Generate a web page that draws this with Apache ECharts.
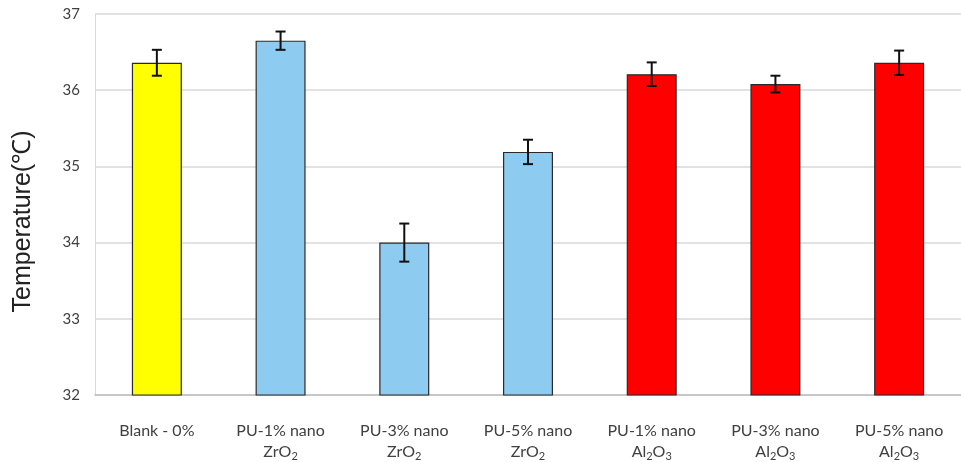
<!DOCTYPE html>
<html><head><meta charset="utf-8">
<script src="https://cdn.jsdelivr.net/npm/echarts@6/dist/echarts.min.js"></script>
<style>html,body{margin:0;padding:0;background:#fff}#c{width:961px;height:462px}</style>
</head><body><div id="c"></div>
<script>
const categories = ['Blank - 0%', 'PU-1% nano\nZrO{s|2}', 'PU-3% nano\nZrO{s|2}', 'PU-5% nano\nZrO{s|2}', 'PU-1% nano\nAl{s|2}O{s|3}', 'PU-3% nano\nAl{s|2}O{s|3}', 'PU-5% nano\nAl{s|2}O{s|3}'];
const values = [36.36, 36.65, 34.00, 35.19, 36.21, 36.08, 36.36];
const errors = [0.17, 0.12, 0.25, 0.16, 0.155, 0.11, 0.16];
const barColors = ['#ffff00', '#8ecbf0', '#8ecbf0', '#8ecbf0', '#ff0000', '#ff0000', '#ff0000'];
const yTicks = [32, 33, 34, 35, 36, 37];

const chart = echarts.init(document.getElementById('c'));
const font = 'Lato, "Open Sans", sans-serif';
chart.setOption({
  animation: false,
  grid: { left: 95, top: 14, width: 878, bottom: 65, containLabel: false },
  xAxis: {
    type: 'category', data: categories,
    axisTick: { show: false },
    axisLine: { lineStyle: { color: '#bfbfbf', width: 1.5 } },
    axisLabel: {
      interval: 0, margin: 25, color: '#404040', fontFamily: font, fontSize: 16, lineHeight: 21,
      rich: { s: { fontSize: 11, verticalAlign: 'bottom', padding: [9, 0, 0, 0], color: '#404040', fontFamily: font } }
    }
  },
  yAxis: {
    type: 'value', min: yTicks[0], max: yTicks[yTicks.length - 1], interval: 1,
    name: 'Temperature(\u2103)', nameLocation: 'middle', nameGap: 59,
    nameTextStyle: { fontFamily: '"Liberation Sans", Arial, sans-serif', fontSize: 25, color: '#222', padding: [0, 34, 0, 0] },
    axisLine: { show: true, lineStyle: { color: '#d9d9d9' } },
    axisTick: { show: false },
    splitLine: { lineStyle: { color: '#d9d9d9', width: 1.5 } },
    axisLabel: { margin: 15, color: '#404040', fontFamily: font, fontSize: 15 }
  },
  series: [
    {
      type: 'bar', barWidth: 50,
      data: values.map((v, i) => ({ value: v, itemStyle: { color: barColors[i] } })),
      itemStyle: { borderColor: '#2a2a2a', borderWidth: 1.2 }
    },
    {
      type: 'custom',
      data: values.map((v, i) => [i, v - errors[i], v + errors[i]]),
      renderItem: function (params, api) {
        const lo = api.coord([api.value(0), api.value(1)]);
        const hi = api.coord([api.value(0), api.value(2)]);
        const w = 5;
        const st = { stroke: '#111', lineWidth: 2 };
        return {
          type: 'group', children: [
            { type: 'line', shape: { x1: hi[0], y1: hi[1], x2: lo[0], y2: lo[1] }, style: st },
            { type: 'line', shape: { x1: hi[0] - w, y1: hi[1], x2: hi[0] + w, y2: hi[1] }, style: st },
            { type: 'line', shape: { x1: lo[0] - w, y1: lo[1], x2: lo[0] + w, y2: lo[1] }, style: st }
          ]
        };
      },
      z: 10
    }
  ]
});
</script></body></html>
